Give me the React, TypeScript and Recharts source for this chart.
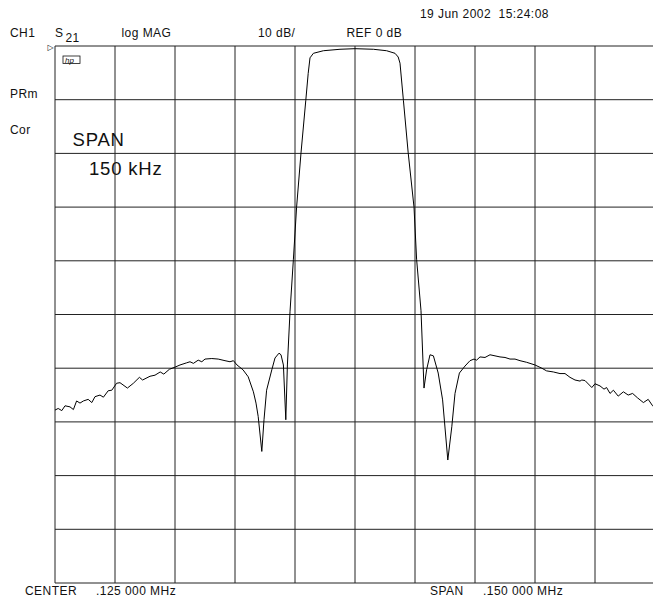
import React from "react";
import { LineChart, Line, XAxis, YAxis, CartesianGrid } from "recharts";

// S21 trace: [frequency kHz, magnitude dB]
const lowerStopband: [number, number][] = [
  [50, -67.8], [50.8, -67.5], [51.7, -67.9], [52.5, -67.0], [53.75, -67.2], [54.6, -67.7],
  [55.4, -66.1], [56.25, -66.5], [57.1, -66.1], [58.3, -65.8], [59.2, -66.4], [60.0, -65.3],
  [61.25, -65.0], [62.1, -65.4], [63.3, -64.2], [64.2, -64.1], [65.4, -62.8], [66.25, -62.7],
  [68.1, -63.7], [69.6, -62.8], [71.1, -61.7], [71.9, -62.2], [73.75, -61.5], [75.0, -61.3],
  [76.3, -60.7], [77.2, -61.1], [78.6, -60.2], [80.0, -59.8], [81.25, -59.4], [82.9, -59.0],
  [83.75, -58.8], [84.6, -59.1], [85.8, -58.5], [86.7, -58.8], [87.5, -58.3], [89.2, -58.2],
  [90.8, -58.3], [92.5, -58.6], [93.75, -58.8], [94.6, -58.6], [95.5, -59.4], [97.0, -60.3],
  [98.3, -61.6], [99.6, -64.4], [100.25, -66.5], [100.8, -69.0], [101.7, -75.5], [102.25, -69.6],
  [102.9, -64.1], [104.2, -60.3], [105.0, -58.1], [106.0, -57.2], [106.5, -57.5], [107.1, -59.4],
  [107.7, -69.6],
];

const lowerSkirt: [number, number][] = [
  [108.1, -59.4], [108.75, -49.5], [109.6, -39.7], [110.4, -30.0], [111.5, -19.9], [112.7, -10.1],
  [113.3, -5.1],
];

const passband: [number, number][] = [
  [113.75, -2.2], [114.6, -1.36], [117.1, -0.88], [121.25, -0.61], [125.0, -0.5], [129.6, -0.61],
  [132.9, -0.88], [135.0, -1.36], [135.8, -2.05], [136.25, -3.2],
];

const upperSkirt: [number, number][] = [
  [137.1, -10.1], [138.3, -19.9], [139.75, -30.0], [140.4, -39.7], [141.5, -49.3], [142.25, -63.7],
];

const upperStopband: [number, number][] = [
  [142.9, -60.3], [143.75, -57.5], [144.6, -57.7], [145.8, -60.9], [146.9, -65.9], [148.2, -77.1],
  [149.2, -70.9], [150.0, -64.7], [151.1, -60.9], [152.5, -59.6], [153.75, -58.6], [154.75, -58.3],
  [155.4, -58.5], [156.25, -57.9], [157.5, -58.0], [158.75, -57.5], [160.0, -57.7], [161.25, -57.9],
  [162.5, -58.0], [163.75, -58.3], [165.0, -58.3], [166.25, -58.6], [167.9, -58.9], [170.0, -59.4],
  [171.7, -60.0], [172.9, -60.5], [174.6, -60.7], [176.25, -61.0], [177.5, -61.0], [178.75, -61.7],
  [180.0, -62.2], [181.25, -62.4], [181.7, -62.2], [182.5, -62.3], [184.2, -63.6], [185.0, -62.9],
  [186.25, -63.3], [187.25, -63.9], [187.9, -63.6], [188.75, -64.7], [189.6, -64.1], [190.8, -65.2],
  [192.1, -64.4], [193.3, -65.0], [194.4, -64.7], [195.6, -65.5], [197.1, -66.4], [198.3, -65.8],
  [199.4, -67.0], [200, -66.7],
];

const freqTicks = [50, 65, 80, 95, 110, 125, 140, 155, 170, 185, 200];
const dbTicks = [0, -10, -20, -30, -40, -50, -60, -70, -80, -90, -100];

const data = [...lowerStopband, ...lowerSkirt, ...passband, ...upperSkirt, ...upperStopband].map(
  ([f, db]) => ({ f, db })
);

const FONT = "'Liberation Sans', Arial, sans-serif";
const SMALL = { fontSize: 12, letterSpacing: 0.45 };
const BIG = { fontSize: 18.5, letterSpacing: 0.8 };

export default function App() {
  return (
    <div
      style={{
        position: "absolute",
        left: 0,
        top: 0,
        width: 653,
        height: 601,
        overflow: "hidden",
        background: "#fff",
      }}
    >
      <LineChart
        width={660}
        height={601}
        data={data}
        margin={{ top: 46, right: 5, bottom: 18, left: 55 }}
      >
        <CartesianGrid stroke="#222" strokeWidth={1} />
        <XAxis dataKey="f" type="number" domain={[50, 200]} ticks={freqTicks} hide />
        <YAxis type="number" domain={[-100, 0]} ticks={dbTicks} hide />
        <Line
          dataKey="db"
          type="linear"
          stroke="#000"
          strokeWidth={1}
          dot={false}
          isAnimationActive={false}
        />
      </LineChart>
      <svg
        width={653}
        height={601}
        style={{ position: "absolute", left: 0, top: 0, pointerEvents: "none" }}
        fontFamily={FONT}
        fill="#111"
      >
        <text x={420} y={18} {...SMALL}>{"19 Jun 2002\u00A0\u00A015:24:08"}</text>
        <text x={10} y={37} {...SMALL}>CH1</text>
        <text x={55} y={37} {...SMALL}>S</text>
        <text x={65.5} y={42} {...SMALL}>21</text>
        <text x={121.5} y={37} {...SMALL}>log MAG</text>
        <text x={258} y={37} {...SMALL}>10 dB/</text>
        <text x={346.5} y={37} {...SMALL}>REF 0 dB</text>
        <text x={10} y={98} {...SMALL}>PRm</text>
        <text x={10} y={134} {...SMALL}>Cor</text>
        <text x={72.5} y={146} {...BIG}>SPAN</text>
        <text x={89} y={175} {...BIG}>150 kHz</text>
        <text x={25} y={595} {...SMALL}>CENTER</text>
        <text x={96} y={595} {...SMALL}>.125 000 MHz</text>
        <text x={430} y={595} {...SMALL}>SPAN</text>
        <text x={483} y={595} {...SMALL}>.150 000 MHz</text>
        <text x={47.5} y={50} fontSize={8} fontFamily="DejaVu Sans">▷</text>
        <rect x={63} y={56} width={17} height={7.5} fill="none" stroke="#111" strokeWidth={0.8} />
        <text x={65} y={62.5} fontSize={8} fontStyle="italic">hp</text>
      </svg>
    </div>
  );
}
